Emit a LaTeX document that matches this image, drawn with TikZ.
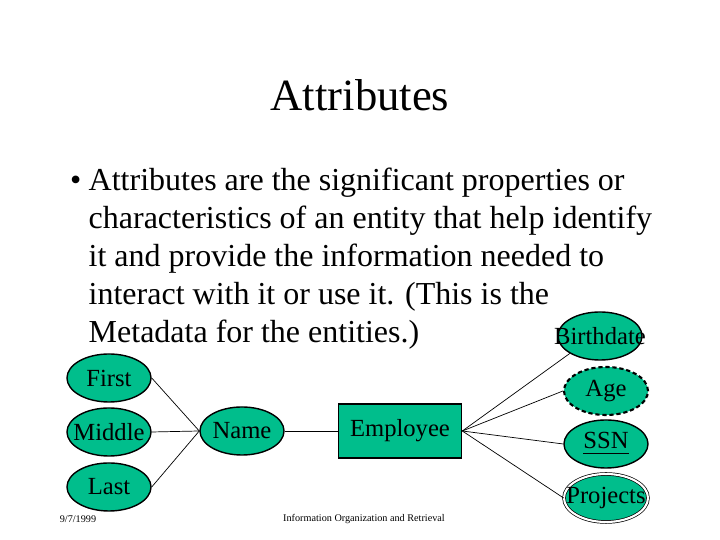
\documentclass[tikz,border=0pt]{standalone}
\usepackage{fontspec}
\setmainfont{Liberation Serif}
\usetikzlibrary{shapes.geometric}
\definecolor{ergreen}{RGB}{0,190,140}
\newcommand{\attrlabel}[1]{\makebox[0pt]{#1}}
\tikzset{
  attr/.style={ellipse, draw, fill=ergreen, minimum width=0.84cm, minimum height=0.48cm, inner sep=0pt, font=\fontsize{7}{7}\selectfont},
  entity/.style={rectangle, draw, fill=ergreen, minimum width=1.21cm, minimum height=0.54cm, font=\fontsize{7}{7}\selectfont},
  body/.style={anchor=base west, inner sep=0pt, font=\fontsize{9.1}{10}\selectfont},
  link/.style={black, line width=0.2pt}
}
\begin{document}
\begin{tikzpicture}[x=0.01cm, y=-0.01cm]
  \useasboundingbox (0,0) rectangle (720,540);

  % Title
  \node[font=\fontsize{12.7}{14}\selectfont] (title) at (360,95) {Attributes};

  % Bullet text
  \node[body, anchor=base east] (dot) at (82,191) {\textbullet};
  \node[body] (l1) at (88,191) {Attributes are the significant properties or};
  \node[body] (l2) at (88,229) {characteristics of an entity that help identify};
  \node[body] (l3) at (88,267) {it and provide the information needed to};
  \node[body] (l4) at (88,305) {interact with it or use it. (This is the};
  \node[body] (l5) at (88,343) {Metadata for the entities.)};

  % Entity and attributes
  \node[entity] (employee) at (400,431) {Employee};
  \node[attr] (name) at (242,431) {\attrlabel{Name}};
  \node[attr] (first) at (109,378) {\attrlabel{First}};
  \node[attr] (middle) at (109,432) {\attrlabel{Middle}};
  \node[attr] (last) at (109,487) {\attrlabel{Last}};
  \node[attr] (birthdate) at (600,336) {\attrlabel{Birthdate}};
  \node[attr, dash pattern=on 1.2pt off 0.8pt, line width=0.6pt] (age) at (606,391) {\attrlabel{Age}};
  \node[attr] (ssn) at (606,444) {\attrlabel{\underline{SSN}}};
  \node[attr, double, double distance=0.6pt, line width=0.2pt] (projects) at (606,498) {\attrlabel{Projects}};

  % Links
  \draw[link] (first.east) -- (name.west);
  \draw[link] (middle.east) -- (name.west);
  \draw[link] (last.east) -- (name.west);
  \draw[link] (name.east) -- (employee.west);
  \draw[link] (employee.east) -- (birthdate.south west);
  \draw[link] (employee.east) -- (age.west);
  \draw[link] (employee.east) -- (ssn.west);
  \draw[link] (employee.east) -- (projects.west);

  % Footer
  \node[font=\fontsize{2.9}{3}\selectfont] (date) at (78,519) {9/7/1999};
  \node[font=\fontsize{2.9}{3}\selectfont] (course) at (364,519) {Information Organization and Retrieval};
\end{tikzpicture}
\end{document}
